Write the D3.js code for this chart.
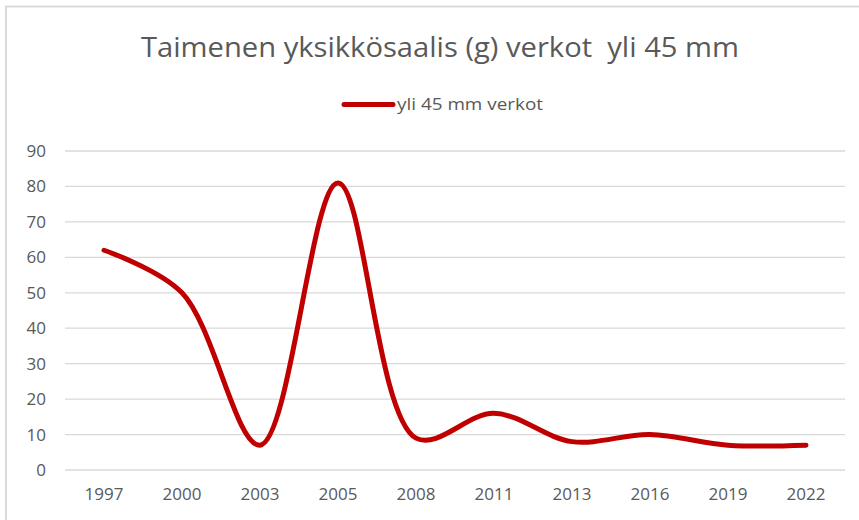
<!DOCTYPE html>
<html><head><meta charset="utf-8">
<script src="https://cdn.jsdelivr.net/npm/d3@7"></script>
<style>body{margin:0;background:#fff}svg{display:block}text{font-family:"Open Sans",sans-serif;white-space:pre}</style>
</head><body><svg id="c" width="859" height="520"></svg>
<script>
const years = ["1997","2000","2003","2005","2008","2011","2013","2016","2019","2022"];
const values = [62, 50, 7, 81, 9, 16, 8, 10, 7, 7];
const yTicks = [0,10,20,30,40,50,60,70,80,90];
const title = "Taimenen yksikkösaalis (g) verkot  yli 45 mm";
const seriesName = "yli 45 mm verkot";

const svg = d3.select("#c");
svg.append("rect").attr("x",6).attr("y",6.5).attr("width",870).attr("height",530)
  .attr("fill","#fff").attr("stroke","#d9d9d9").attr("stroke-width",2);

const x = d3.scaleBand().domain(years).range([65,845]);
const y = d3.scaleLinear().domain([0,90]).range([470,151]);

// grid
svg.append("g").selectAll("line").data(yTicks).join("line")
  .attr("x1",65).attr("x2",845).attr("y1",d=>y(d)).attr("y2",d=>y(d))
  .attr("stroke","#d9d9d9").attr("stroke-width",1.3);

// y axis labels
const ya = svg.append("g").attr("transform","translate(57,0)")
  .call(d3.axisLeft(y).tickValues(yTicks).tickSize(0).tickPadding(11));
ya.select(".domain").remove();
ya.selectAll("text").attr("font-size",17).attr("fill","#595959")
  .style("font-family","'Open Sans',sans-serif");

// x axis labels
const xa = svg.append("g").attr("transform","translate(0,470)")
  .call(d3.axisBottom(x).tickSize(0).tickPadding(18));
xa.select(".domain").remove();
xa.selectAll("text").attr("font-size",17).attr("fill","#595959")
  .style("font-family","'Open Sans',sans-serif");

// line (Excel-like smoothing)
const line = d3.line().x((d,i)=>x(years[i])+x.bandwidth()/2).y(d=>y(d))
  .curve(d3.curveCatmullRom.alpha(0.5));
svg.append("path").datum(values).attr("d",line).attr("fill","none")
  .attr("stroke","#c00000").attr("stroke-width",5).attr("stroke-linecap","round").attr("stroke-linejoin","round");

// title
svg.append("text").attr("x",440).attr("y",57).attr("text-anchor","middle")
  .attr("font-size",27).attr("fill","#595959")
  .attr("textLength",598).attr("lengthAdjust","spacingAndGlyphs").text(title);

// legend
svg.append("line").attr("x1",344).attr("x2",393).attr("y1",104.5).attr("y2",104.5)
  .attr("stroke","#c00000").attr("stroke-width",5).attr("stroke-linecap","round");
svg.append("text").attr("x",397).attr("y",110).attr("font-size",16).attr("fill","#595959")
  .attr("textLength",146).attr("lengthAdjust","spacingAndGlyphs").text(seriesName);
</script></body></html>
